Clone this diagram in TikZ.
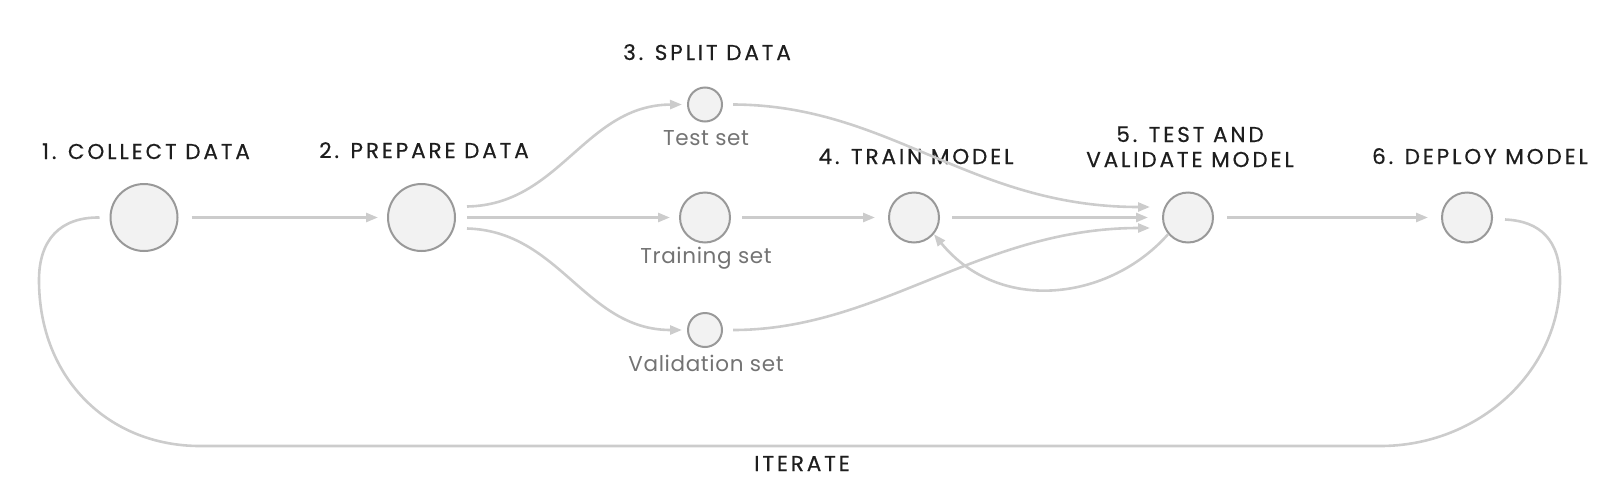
\documentclass[tikz,border=0pt]{standalone}
\usepackage{fontspec}
\setmainfont{Poppins}
\newfontfamily\titlefont[LetterSpace=13.5,FakeBold=0.5]{Poppins}
\newfontfamily\subfont[LetterSpace=3]{Poppins}
\usetikzlibrary{arrows.meta}
\definecolor{ringc}{HTML}{999999}
\definecolor{fillc}{HTML}{F2F2F2}
\definecolor{linec}{HTML}{CCCCCC}
\definecolor{titlec}{HTML}{1E1E1E}
\definecolor{subc}{HTML}{737373}
\begin{document}
\begin{tikzpicture}[x=1pt,y=-1pt,
  ring/.style={circle,draw=ringc,fill=fillc,line width=2pt,inner sep=0pt},
  bigring/.style={ring,minimum size=67pt},
  midring/.style={ring,minimum size=50pt},
  smallring/.style={ring,minimum size=34pt},
  conn/.style={draw=linec,line width=2.6pt},
  arr/.style={conn,-{Triangle[length=12pt,width=9pt,fill=linec]}},
  title/.style={font=\titlefont\fontsize{21.5}{25}\selectfont,text=titlec,inner sep=0pt,anchor=base},
  sub/.style={font=\subfont\fontsize{21.5}{25}\selectfont,text=subc,inner sep=0pt,anchor=base}]
\useasboundingbox (0,0) rectangle (1621,498);
% nodes
\node[bigring] (c1) at (144,217.5) {};
\node[bigring] (c2) at (421.5,217.5) {};
\node[smallring] (ts) at (705,104.5) {};
\node[midring] (tr) at (705,217.5) {};
\node[smallring] (va) at (705,330) {};
\node[midring] (c4) at (914,217.5) {};
\node[midring] (c5) at (1188,217.5) {};
\node[midring] (c6) at (1467,217.5) {};
% titles
\node[title] (l1) at (146,159) {1. COLLECT DATA};
\node[title] (l2) at (424,158) {2. PREPARE DATA};
\node[title] (l3) at (707,60) {3. SPLIT DATA};
\node[title] (l4) at (916,164) {4. TRAIN MODEL};
\node[title] (l5a) at (1190,142) {5. TEST AND};
\node[title] (l5b) at (1190,167) {VALIDATE MODEL};
\node[title] (l6) at (1480,164) {6. DEPLOY MODEL};
\node[title] (li) at (802,471) {ITERATE};
\node[sub] (s1) at (706,145) {Test set};
\node[sub] (s2) at (706,263) {Training set};
\node[sub] (s3) at (706,371) {Validation set};
% connectors
\draw[arr] ([xshift=13pt]c1.east) -- ([xshift=-9pt]c2.west);
\draw[arr] ([xshift=11pt,yshift=11pt]c2.east) .. controls (560,205) and (585,105) .. ([xshift=-5pt]ts.west);
\draw[arr] ([xshift=11pt]c2.east) -- ([xshift=-9pt]tr.west);
\draw[arr] ([xshift=11pt,yshift=-11pt]c2.east) .. controls (560,231) and (585,330) .. ([xshift=-5pt]va.west);
\draw[arr] ([xshift=11pt]tr.east) -- ([xshift=-13pt]c4.west);
\draw[arr] ([xshift=10pt]ts.east) .. controls (890,105) and (970,207) .. ([xshift=-12pt,yshift=10.5pt]c5.west);
\draw[arr] ([xshift=12pt]c4.east) -- ([xshift=-14pt]c5.west);
\draw[arr] ([xshift=10pt]va.east) .. controls (880,330) and (980,228) .. ([xshift=-12pt,yshift=-10.5pt]c5.west);
\draw[arr] (c5.-140) .. controls (1110,300) and (1000,315) .. (c4.-40);
\draw[arr] ([xshift=13pt]c5.east) -- ([xshift=-13pt]c6.west);
\draw[conn] ([xshift=-10pt]c1.west) .. controls (60,217) and (39,240) .. (39,280)
  .. controls (39,380) and (110,446) .. (200,446) -- (1380,446)
  .. controls (1480,446) and (1560,370) .. (1560,280)
  .. controls (1560,240) and (1540,221) .. ([xshift=12pt,yshift=-2pt]c6.east);
\end{tikzpicture}
\end{document}
